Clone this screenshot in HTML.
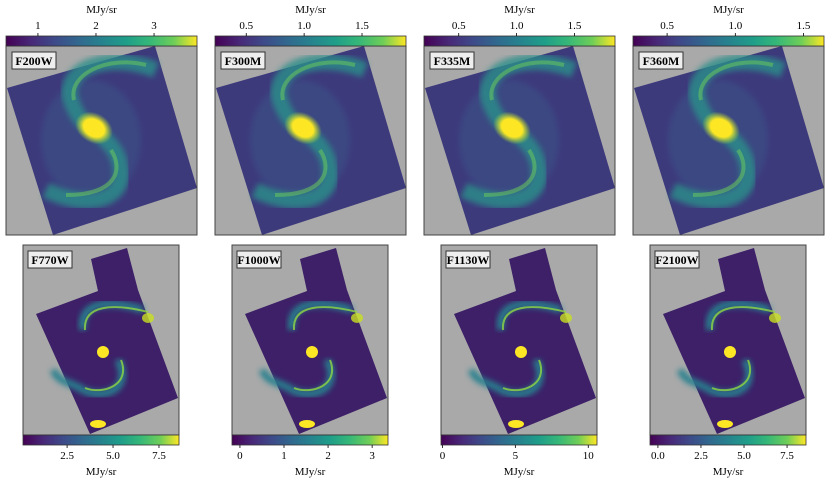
<!DOCTYPE html>
<html><head><meta charset="utf-8"><style>
body{margin:0;background:#fff;width:831px;height:484px;overflow:hidden;font-family:"Liberation Serif",serif}
svg{display:block}
</style></head><body>
<svg id="fig" width="831" height="484" xmlns="http://www.w3.org/2000/svg">
<defs>
<linearGradient id="vir" x1="0" x2="1" y1="0" y2="0">
<stop offset="0" stop-color="#440154"/><stop offset="0.13" stop-color="#482878"/><stop offset="0.25" stop-color="#3e4989"/><stop offset="0.38" stop-color="#31688e"/><stop offset="0.5" stop-color="#26828e"/><stop offset="0.63" stop-color="#1f9e89"/><stop offset="0.75" stop-color="#35b779"/><stop offset="0.88" stop-color="#6ece58"/><stop offset="1" stop-color="#fde725"/>
</linearGradient>
<radialGradient id="core"><stop offset="0" stop-color="#fde725"/><stop offset="0.55" stop-color="#fde725"/><stop offset="1" stop-color="#b5de2b" stop-opacity="0"/></radialGradient>
<filter id="blur"><feGaussianBlur stdDeviation="3"/></filter>
</defs>
</svg>
<script>
const topLabels=["F200W","F300M","F335M","F360M"];
const botLabels=["F770W","F1000W","F1130W","F2100W"];
const topMin=[0.45,0.23,0.2,0.25];
const topMax=[3.74,1.88,1.85,1.65];
const topTicks=[[1,2,3],[0.5,1.0,1.5],[0.5,1.0,1.5],[0.5,1.0,1.5]];
const topTickText=[["1","2","3"],["0.5","1.0","1.5"],["0.5","1.0","1.5"],["0.5","1.0","1.5"]];
const botMin=[0.1,-0.18,-0.1,-0.46];
const botMax=[8.59,3.36,10.6,8.6];
const botTicks=[[2.5,5.0,7.5],[0,1,2,3],[0,5,10],[0.0,2.5,5.0,7.5]];
const botTickText=[["2.5","5.0","7.5"],["0","1","2","3"],["0","5","10"],["0.0","2.5","5.0","7.5"]];
const NS="http://www.w3.org/2000/svg";
const fig=document.getElementById('fig');
function mk(tag,attrs,parent){const e=document.createElementNS(NS,tag);for(const k in attrs)e.setAttribute(k,attrs[k]);(parent||fig).appendChild(e);return e;}
function txt(x,y,s,size,anchor,parent,bold){const t=mk('text',{x:x,y:y,'font-size':size,'text-anchor':anchor||'middle','font-family':'Liberation Serif, serif','font-weight':bold?'bold':'normal'},parent);t.textContent=s;return t;}

for(let i=0;i<4;i++){
  const x0=6+i*209, w=191, y0=46, h=189;
  const g=mk('g',{transform:`translate(${x0},0)`});
  
  
  mk('rect',{x:0,y:y0,width:w,height:h,fill:'#a9a9a9'},g);
  const gal=mk('g',{},g);
  
  
  mk('polygon',{points:`1,88 149,46 191,188 47,235`,fill:'#3d3a7c'},gal);
  mk('ellipse',{cx:85,cy:140,rx:50,ry:60,fill:'#3a5a8a',opacity:0.45,filter:'url(#blur)'},gal);
  mk('path',{d:'M150,70 C100,50 55,70 65,100 C72,120 80,125 86,128',stroke:'#2a8f8a','stroke-width':16,fill:'none',opacity:0.8,filter:'url(#blur)'},gal);
  mk('path',{d:'M86,128 C100,140 115,150 115,175 C115,200 80,210 40,190',stroke:'#2a8f8a','stroke-width':16,fill:'none',opacity:0.8,filter:'url(#blur)'},gal);
  mk('path',{d:'M140,65 C100,55 62,75 68,100',stroke:'#6ece58','stroke-width':4,fill:'none',opacity:0.5},gal);
  mk('path',{d:'M105,150 C118,170 110,195 60,195',stroke:'#6ece58','stroke-width':4,fill:'none',opacity:0.5},gal);
  mk('ellipse',{cx:88,cy:128,rx:20,ry:15,fill:'url(#core)',transform:'rotate(30 88 128)'},gal);
  mk('rect',{x:0,y:y0,width:w,height:h,fill:'none',stroke:'#444','stroke-width':1},g);
  mk('rect',{x:6,y:52,width:44,height:17,fill:'#eeeeee',stroke:'#333','stroke-width':1},g);
  txt(28,65,topLabels[i],12,'middle',g,true);
  const cb=mk('rect',{x:0,y:36,width:w,height:10,fill:'url(#vir)',stroke:'#333','stroke-width':0.8},g);
  
  
  const sx=v=>(v-topMin[i])/(topMax[i]-topMin[i])*w;
  topTicks[i].forEach((v,j)=>{
    mk('line',{x1:sx(v),x2:sx(v),y1:33,y2:36,stroke:'#000','stroke-width':0.8},g);
    const t=txt(sx(v),29,topTickText[i][j],11,'middle',g);
    
    
  });
  const u=txt(w/2,13,'MJy/sr',11,'middle',g);
  
  
}
for(let i=0;i<4;i++){
  const x0=23+i*209, w=156, y0=245, h=190;
  const g=mk('g',{transform:`translate(${x0},0)`});
  
  
  mk('rect',{x:0,y:y0,width:w,height:h,fill:'#a9a9a9'},g);
  const gal=mk('g',{},g);
  
  
  mk('polygon',{points:'13,314 75,291 68,259 104,248 115,290 155,398 67,434',fill:'#3d2068'},gal);
  mk('path',{d:'M60,330 C55,300 90,300 120,310',stroke:'#27808e','stroke-width':7,fill:'none',filter:'url(#blur)'},gal);
  mk('path',{d:'M95,360 C110,390 80,400 60,390 C45,380 38,385 30,370',stroke:'#27808e','stroke-width':7,fill:'none',filter:'url(#blur)'},gal);
  mk('path',{d:'M62,330 C60,305 90,303 125,312',stroke:'#8fd744','stroke-width':2,fill:'none',opacity:0.8},gal);
  mk('path',{d:'M98,360 C108,385 80,395 62,388',stroke:'#8fd744','stroke-width':2,fill:'none',opacity:0.8},gal);
  mk('ellipse',{cx:80,cy:352,rx:6,ry:6,fill:'#fde725'},gal);
  mk('ellipse',{cx:75,cy:424,rx:8,ry:4,fill:'#fde725'},gal);
  mk('ellipse',{cx:125,cy:318,rx:6,ry:5,fill:'#c8e020',opacity:0.8},gal);
  mk('rect',{x:0,y:y0,width:w,height:h,fill:'none',stroke:'#444','stroke-width':1},g);
  mk('rect',{x:5,y:251,width:44,height:17,fill:'#eeeeee',stroke:'#333','stroke-width':1},g);
  txt(27,264,botLabels[i],12,'middle',g,true);
  const cb=mk('rect',{x:0,y:435,width:w,height:10,fill:'url(#vir)',stroke:'#333','stroke-width':0.8},g);
  
  
  const sx=v=>(v-botMin[i])/(botMax[i]-botMin[i])*w;
  botTicks[i].forEach((v,j)=>{
    mk('line',{x1:sx(v),x2:sx(v),y1:445,y2:448,stroke:'#000','stroke-width':0.8},g);
    const t=txt(sx(v),459,botTickText[i][j],11,'middle',g);
    
    
  });
  const u=txt(w/2,475,'MJy/sr',11,'middle',g);
  
  
}
</script>
</body></html>
